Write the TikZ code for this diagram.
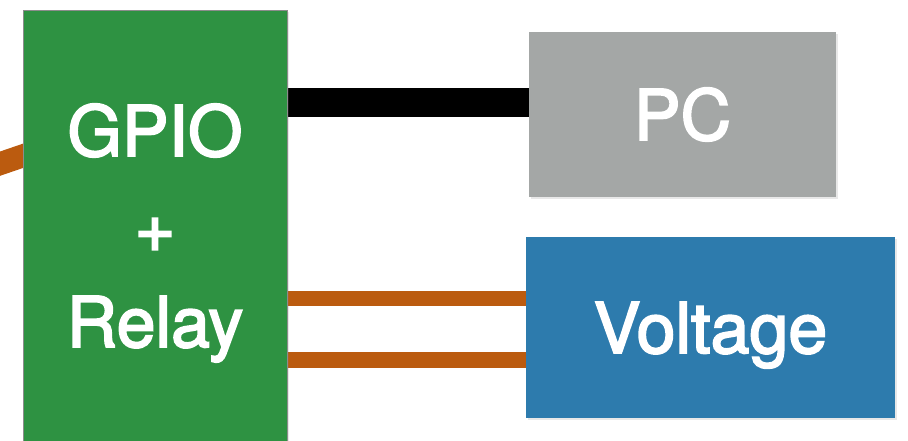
\documentclass[tikz,border=0pt]{standalone}
\usepackage{fontspec}
\setmainfont{TeX Gyre Heros}
\newcommand\heavytext[1]{\special{pdf:literal direct 2 Tr 1.8 w 1 1 1 RG}#1\special{pdf:literal direct 0 Tr}}
\usetikzlibrary{backgrounds,shadows,calc}
\definecolor{boxgreen}{RGB}{46,146,66}
\definecolor{boxgray}{RGB}{164,167,166}
\definecolor{boxblue}{RGB}{45,123,173}
\definecolor{wireorange}{RGB}{187,91,15}
\tikzset{
  blockbox/.style={rectangle, inner sep=0pt, outer sep=0pt, text=white,
    font=\fontsize{70}{95.5}\selectfont, align=center,
    drop shadow={opacity=0.18, shadow xshift=1.5pt, shadow yshift=-2pt}},
  blackwire/.style={draw=black, line width=29pt},
  orangewire/.style={draw=wireorange, line width=15pt},
}
\begin{document}
\begin{tikzpicture}[x=1pt,y=-1pt]
\useasboundingbox (0,0) rectangle (908,440);
\node[blockbox, fill=boxgreen, draw=black!45, line width=0.6pt,
      minimum width=264pt, minimum height=446pt] (gpio) at (155,233) {\heavytext{GPIO}\\\heavytext{+}\\\heavytext{Relay}};
\node[blockbox, fill=boxgray, minimum width=307pt, minimum height=165pt] (pc) at (682.5,114.5) {\heavytext{PC}};
\node[blockbox, fill=boxblue, minimum width=369pt, minimum height=181pt, text depth=0pt] (volt) at (710.5,327.5) {\heavytext{Voltage}};
\coordinate (leftin) at (-40,177.4);
\begin{pgfonlayer}{background}
  \draw[blackwire] ([yshift=12pt]pc.west) -- ([yshift=12pt]pc.west -| gpio.east);
  \draw[orangewire] ([yshift=29pt]volt.west) -- ([yshift=29pt]volt.west -| gpio.east);
  \draw[orangewire, line width=16pt] ([yshift=-32.5pt]volt.west) -- ([yshift=-32.5pt]volt.west -| gpio.east);
  \draw[orangewire, line width=23pt] (leftin) -- ($(leftin)!1.15!([yshift=77.2pt]gpio.west)$);
\end{pgfonlayer}
\end{tikzpicture}
\end{document}
